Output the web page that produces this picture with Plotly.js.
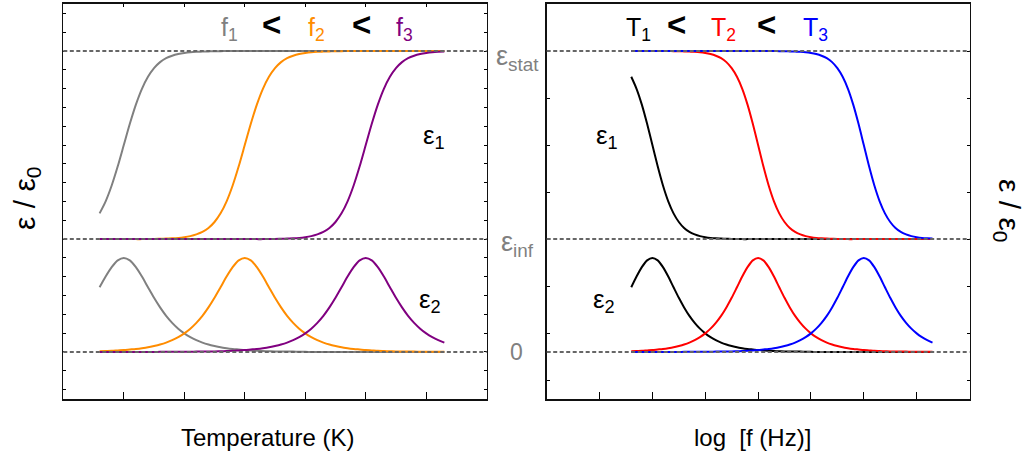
<!DOCTYPE html>
<html>
<head>
<meta charset="utf-8">
<script src="https://cdn.plot.ly/plotly-3.0.1.min.js"></script>
<style>html,body{margin:0;padding:0;background:#fff;}#chart{width:1028px;height:455px;}</style>
</head>
<body>
<div id="chart"></div>
<script>
// ---------- data ----------
// Left panel: temperature axis (arbitrary units)
var tempX = [0.6,0.7,0.8,0.9,1.0,1.1,1.2,1.3,1.4,1.5,1.6,1.7,1.8,1.9,2.0,2.1,2.2,2.3,2.4,2.5,2.6,2.7,2.8,2.9,3.0,3.1,3.2,3.3,3.4,3.5,3.6,3.7,3.8,3.9,4.0,4.1,4.2,4.3,4.4,4.5,4.6,4.7,4.8,4.9,5.0,5.1,5.2,5.3,5.4,5.5,5.6,5.7,5.8,5.9,6.0,6.1,6.2,6.3];
var eps1_f1 = [7.37,8.01,8.85,9.87,11.0,12.13,13.15,13.99,14.63,15.09,15.41,15.62,15.75,15.84,15.90,15.94,15.96,15.97,15.98,15.99,15.99,
  16,16,16,16,16,16,16,16,16,16,16,16,16,16,16,16,16,16,16,16,16,16,16,16,16,16,16,16,16,16,16,16,16,16,16,16,16];
var eps1_f2 = [6,6,6,6,6,6,6,6,6.01,6.01,6.02,6.03,6.04,6.06,6.10,6.16,6.25,6.38,6.59,6.91,7.37,8.01,8.85,9.87,11.0,12.13,13.15,13.99,
  14.63,15.09,15.41,15.62,15.75,15.84,15.90,15.94,15.96,15.97,15.98,15.99,15.99,16,16,16,16,16,16,16,16,16,16,16,16,16,16,16,16,16];
var eps1_f3 = [6,6,6,6,6,6,6,6,6,6,6,6,6,6,6,6,6,6,6,6,6,6,6,6,6,6,6,6,
  6.01,6.01,6.02,6.03,6.04,6.06,6.10,6.16,6.25,6.38,6.59,6.91,7.37,8.01,8.85,9.87,11.0,12.13,13.15,13.99,14.63,15.09,15.41,15.62,15.75,15.84,15.90,15.94,15.96,15.97];
var eps2_f1 = [3.44,4.01,4.51,4.87,5.00,4.87,4.51,4.01,3.44,2.88,2.37,1.92,1.55,1.24,0.99,0.79,0.63,0.50,0.40,0.32,0.25,0.20,0.16,0.13,0.10,
  0.08,0.06,0.05,0.04,0.03,0.03,0.02,0.02,0.01,0.01,0,0,0,0,0,0,0,0,0,0,0,0,0,0,0,0,0,0,0,0,0,0,0];
var eps2_f2 = [0.04,0.05,0.06,0.08,0.10,0.13,0.16,0.20,0.25,0.32,0.40,0.50,0.63,0.79,0.99,1.24,1.55,1.92,2.37,2.88,3.44,4.01,4.51,4.87,5.00,
  4.87,4.51,4.01,3.44,2.88,2.37,1.92,1.55,1.24,0.99,0.79,0.63,0.50,0.40,0.32,0.25,0.20,0.16,0.13,0.10,0.08,0.06,0.05,0.04,0.03,0.03,0.02,0.02,0.01,0.01,0.01,0.01,0.01];
var eps2_f3 = [0,0,0,0,0,0,0,0,0,0,0.01,0.01,0.01,0.01,0.01,0.01,0.02,0.02,0.03,0.03,0.04,0.05,0.06,0.08,0.10,0.13,0.16,0.20,0.25,0.32,
  0.40,0.50,0.63,0.79,0.99,1.24,1.55,1.92,2.37,2.88,3.44,4.01,4.51,4.87,5.00,4.87,4.51,4.01,3.44,2.88,2.37,1.92,1.55,1.24,0.99,0.79,0.63,0.50];

// Right panel: log frequency axis
var logfX = [1.6,1.7,1.8,1.9,2.0,2.1,2.2,2.3,2.4,2.5,2.6,2.7,2.8,2.9,3.0,3.1,3.2,3.3,3.4,3.5,3.6,3.7,3.8,3.9,4.0,4.1,4.2,4.3,4.4,4.5,4.6,4.7,4.8,4.9,5.0,5.1,5.2,5.3,5.4,5.5,5.6,5.7,5.8,5.9,6.0,6.1,6.2,6.3,6.4,6.5,6.6,6.7,6.8,6.9,7.0,7.1,7.2,7.3];
var eps1_T1 = [14.63,13.99,13.15,12.13,11.0,9.87,8.85,8.01,7.37,6.91,6.59,6.38,6.25,6.16,6.10,6.06,6.04,6.03,6.02,6.01,6.01,
  6,6,6,6,6,6,6,6,6,6,6,6,6,6,6,6,6,6,6,6,6,6,6,6,6,6,6,6,6,6,6,6,6,6,6,6,6];
var eps1_T2 = [16,16,16,16,16,16,16,16,15.99,15.99,15.98,15.97,15.96,15.94,15.90,15.84,15.75,15.62,15.41,15.09,14.63,13.99,13.15,12.13,11.0,9.87,8.85,8.01,
  7.37,6.91,6.59,6.38,6.25,6.16,6.10,6.06,6.04,6.03,6.02,6.01,6.01,6,6,6,6,6,6,6,6,6,6,6,6,6,6,6,6,6];
var eps1_T3 = [16,16,16,16,16,16,16,16,16,16,16,16,16,16,16,16,16,16,16,16,16,16,16,16,16,16,16,16,
  15.99,15.99,15.98,15.97,15.96,15.94,15.90,15.84,15.75,15.62,15.41,15.09,14.63,13.99,13.15,12.13,11.0,9.87,8.85,8.01,7.37,6.91,6.59,6.38,6.25,6.16,6.10,6.06,6.04,6.03];
var eps2_T1 = [3.44,4.01,4.51,4.87,5.00,4.87,4.51,4.01,3.44,2.88,2.37,1.92,1.55,1.24,0.99,0.79,0.63,0.50,0.40,0.32,0.25,0.20,0.16,0.13,0.10,
  0.08,0.06,0.05,0.04,0.03,0.03,0.02,0.02,0.01,0.01,0,0,0,0,0,0,0,0,0,0,0,0,0,0,0,0,0,0,0,0,0,0,0];
var eps2_T2 = [0.04,0.05,0.06,0.08,0.10,0.13,0.16,0.20,0.25,0.32,0.40,0.50,0.63,0.79,0.99,1.24,1.55,1.92,2.37,2.88,3.44,4.01,4.51,4.87,5.00,
  4.87,4.51,4.01,3.44,2.88,2.37,1.92,1.55,1.24,0.99,0.79,0.63,0.50,0.40,0.32,0.25,0.20,0.16,0.13,0.10,0.08,0.06,0.05,0.04,0.03,0.03,0.02,0.02,0.01,0.01,0.01,0.01,0.01];
var eps2_T3 = [0,0,0,0,0,0,0,0,0,0,0.01,0.01,0.01,0.01,0.01,0.01,0.02,0.02,0.03,0.03,0.04,0.05,0.06,0.08,0.10,0.13,0.16,0.20,0.25,0.32,
  0.40,0.50,0.63,0.79,0.99,1.24,1.55,1.92,2.37,2.88,3.44,4.01,4.51,4.87,5.00,4.87,4.51,4.01,3.44,2.88,2.37,1.92,1.55,1.24,0.99,0.79,0.63,0.50];

// reference levels: 0, eps_inf, eps_stat
var levelValues = [0, 6, 16];

var tempTicks = [1,2,3,4,5,6];
var logfTicks = [1,2,3,4,5,6,7];

// ---------- styles ----------
var FONT = 'Liberation Sans, Arial, sans-serif';
var colF = ['#808080', '#ff8c00', '#800080'];
var colT = ['#000000', '#ff0000', '#0000ff'];
var LW = 2;

function line(x, y, color, xa) {
  return {x: x, y: y, type: 'scatter', mode: 'lines', line: {color: color, width: LW, shape: 'spline', smoothing: 0.8},
          xaxis: xa, yaxis: xa === 'x' ? 'y' : 'y2', hoverinfo: 'skip', showlegend: false};
}

var traces = [
  line(tempX, eps1_f1, colF[0], 'x'), line(tempX, eps1_f2, colF[1], 'x'), line(tempX, eps1_f3, colF[2], 'x'),
  line(tempX, eps2_f1, colF[0], 'x'), line(tempX, eps2_f2, colF[1], 'x'), line(tempX, eps2_f3, colF[2], 'x'),
  line(logfX, eps1_T1, colT[0], 'x2'), line(logfX, eps1_T2, colT[1], 'x2'), line(logfX, eps1_T3, colT[2], 'x2'),
  line(logfX, eps2_T1, colT[0], 'x2'), line(logfX, eps2_T2, colT[1], 'x2'), line(logfX, eps2_T3, colT[2], 'x2'),
  {x: [], y: [], type: 'scatter', mode: 'lines', xaxis: 'x3', yaxis: 'y', showlegend: false, hoverinfo: 'skip'}
];

var W = 1028, H = 455;
function px(x) { return x / W; }
function py(y) { return 1 - y / H; }

var shapes = [];
levelValues.forEach(function (v) {
  ['x', 'x2'].forEach(function (xa) {
    shapes.push({type: 'line', xref: xa + ' domain', yref: xa === 'x' ? 'y' : 'y2', x0: 0, x1: 1, y0: v, y1: v,
                 line: {color: '#666666', width: 2, dash: '4px,2.5px'}, layer: 'above'});
  });
});

function ann(text, x, y, color, size, xanchor, extra) {
  var a = {text: text, x: px(x), y: py(y), xref: 'paper', yref: 'paper', showarrow: false,
           xanchor: xanchor || 'left', yanchor: 'middle', font: {family: FONT, size: size, color: color}};
  if (extra) for (var k in extra) a[k] = extra[k];
  return a;
}

var annotations = [
  // left header
  ann('f<sub>1</sub>', 219, 29, colF[0], 25),
  ann('<b><</b>', 271.5, 24, '#000', 33, 'center'),
  ann('f<sub>2</sub>', 306, 29, colF[1], 25),
  ann('<b><</b>', 361.5, 24, '#000', 33, 'center'),
  ann('f<sub>3</sub>', 394, 29, colF[2], 25),
  ann('\u03b5<sub>1</sub>', 421, 136, '#000', 26),
  ann('\u03b5<sub>2</sub>', 417, 300, '#000', 26),
  // right header
  ann('T<sub>1</sub>', 624, 29, colT[0], 25),
  ann('<b><</b>', 676.5, 24, '#000', 33, 'center'),
  ann('T<sub>2</sub>', 709, 29, colT[1], 25),
  ann('<b><</b>', 766.5, 24, '#000', 33, 'center'),
  ann('T<sub>3</sub>', 801, 29, colT[2], 25),
  ann('\u03b5<sub>1</sub>', 594, 136, '#000', 26),
  ann('\u03b5<sub>2</sub>', 591, 300, '#000', 26),
  // middle level labels
  ann('\u03b5<sub>stat</sub>', 494, 58, '#808080', 27),
  ann('\u03b5<sub>inf</sub>', 499, 244, '#808080', 27),
  ann('0', 516, 352, '#808080', 23, 'center'),
  // axis titles
  ann('Temperature (K)', 267, 437, '#000', 24, 'center'),
  ann('log\u00a0\u00a0[f (Hz)]', 752, 437, '#000', 24, 'center'),
  ann('\u03b5 / \u03b5<sub>0</sub>', 26, 199, '#000', 30, 'center', {textangle: -90}),
  ann('\u03b5 / \u03b5<sub>0</sub>', 1008, 210, '#000', 30, 'center', {textangle: 90})
];

var yDom = [56 / H, 451 / H];
var common = {showgrid: false, zeroline: false, showticklabels: false, ticks: 'inside', tickcolor: '#000',
              tickwidth: 1, showline: true, linecolor: '#111', linewidth: 1.6, fixedrange: true};

var layout = {
  width: W, height: H, margin: {l: 0, r: 0, t: 0, b: 0}, paper_bgcolor: '#fff', plot_bgcolor: '#fff',
  showlegend: false,
  xaxis: Object.assign({}, common, {domain: [63.3 / W, 486.7 / W], range: [0, 7], tickmode: 'array', tickvals: tempTicks, ticklen: 7, mirror: true, anchor: 'y'}),
  xaxis3: {overlaying: 'x', anchor: 'y', side: 'top', range: [0, 7], tickmode: 'array', tickvals: tempTicks, ticks: 'inside', ticklen: 3,
           tickcolor: '#000', showticklabels: false, showgrid: false, zeroline: false, showline: false, fixedrange: true},
  yaxis: Object.assign({}, common, {domain: yDom, range: [-2.5, 18.5], dtick: 1, tick0: 0, ticklen: 3, mirror: 'ticks', anchor: 'x'}),
  xaxis2: Object.assign({}, common, {domain: [546.7 / W, 969.5 / W], range: [0, 8], tickmode: 'array', tickvals: logfTicks, ticklen: 7, mirror: true, anchor: 'y2'}),
  yaxis2: Object.assign({}, common, {domain: yDom, range: [-2.5, 18.5], dtick: 2.5, tick0: 1, ticklen: 3, mirror: 'ticks', anchor: 'x2'}),
  shapes: shapes,
  annotations: annotations,
  font: {family: FONT}
};

Plotly.newPlot('chart', traces, layout, {staticPlot: true, displayModeBar: false});
</script>
</body>
</html>
